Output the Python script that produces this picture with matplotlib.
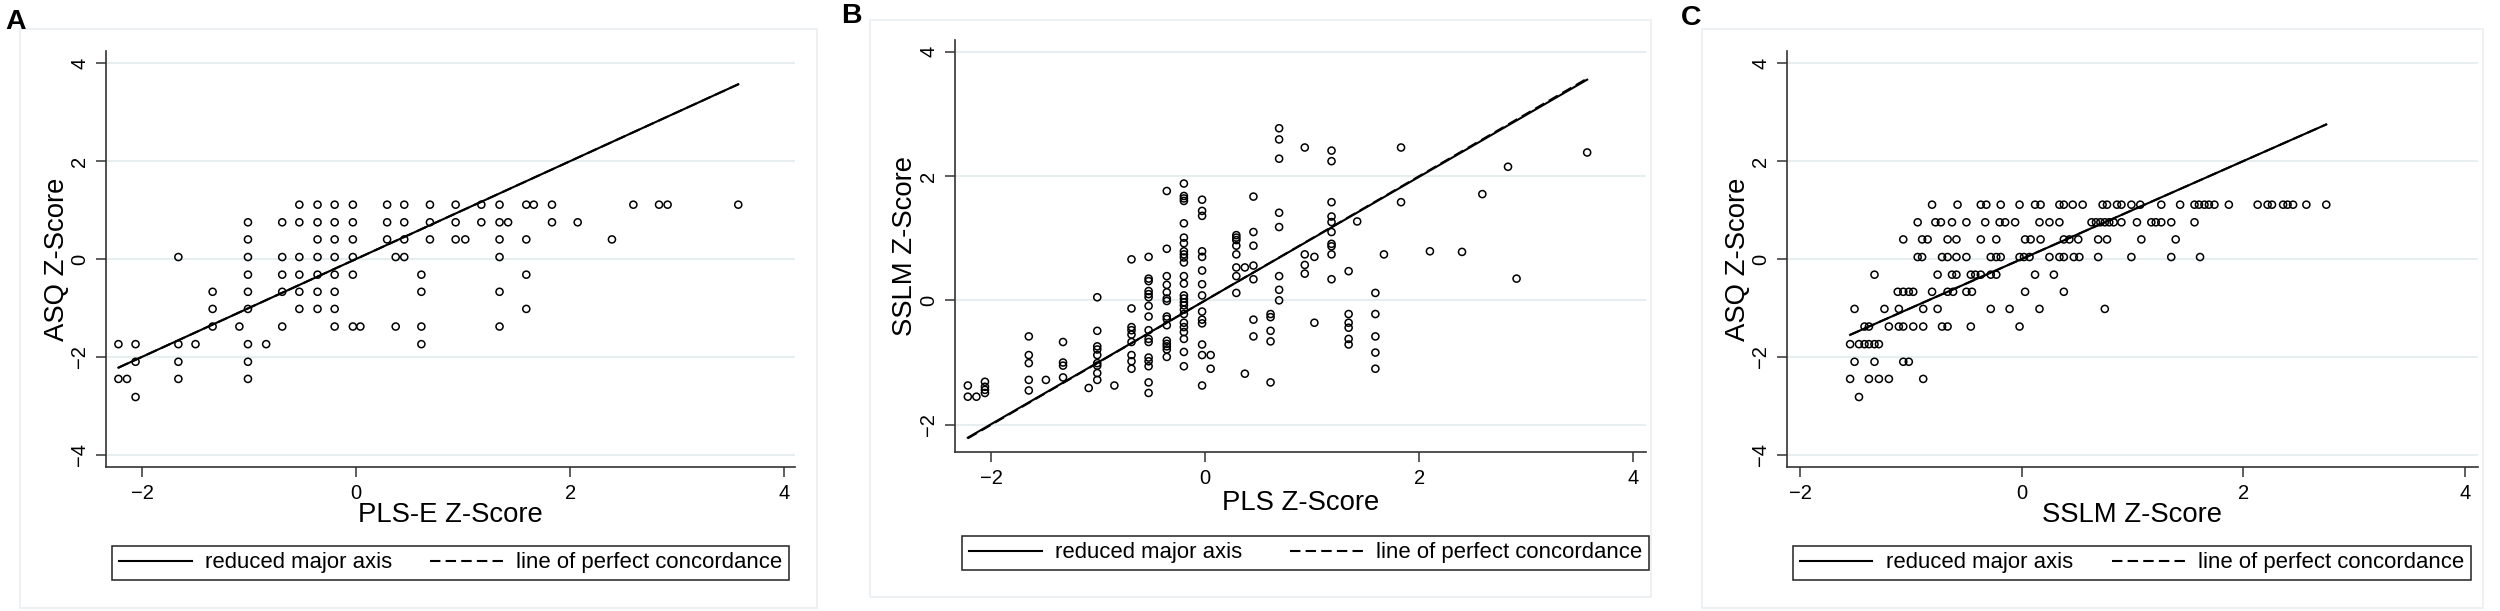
import numpy as np
import matplotlib.pyplot as plt
from matplotlib.patches import Rectangle
from matplotlib.lines import Line2D

plt.rcParams['font.family'] = ['Liberation Sans', 'DejaVu Sans']

# ASQ z-score takes a handful of discrete values (shared by panels A and C)
asq_levels = [1.11, 0.75, 0.40, 0.04, -0.32, -0.67, -1.02, -1.38, -1.74, -2.10, -2.45, -2.82]

# panel A: PLS-E z-score for each ASQ level
pls_e_by_level = [
    [-0.53, -0.36, -0.20, -0.03, 0.29, 0.45, 0.69, 0.93, 1.17, 1.34, 1.59, 1.66, 1.83, 2.59, 2.83, 2.91, 3.57],
    [-1.01, -0.69, -0.53, -0.36, -0.20, -0.03, 0.29, 0.45, 0.69, 0.93, 1.17, 1.34, 1.42, 1.83, 2.07],
    [-1.01, -0.36, -0.20, -0.03, 0.29, 0.45, 0.69, 0.93, 1.02, 1.34, 1.59, 2.39],
    [-1.66, -1.01, -0.69, -0.53, -0.36, -0.20, -0.03, 0.37, 0.45, 1.34],
    [-1.01, -0.69, -0.53, -0.36, -0.20, -0.03, 0.61, 1.59],
    [-1.34, -1.01, -0.69, -0.53, -0.36, -0.20, 0.61, 1.34],
    [-1.34, -1.01, -0.53, -0.36, -0.20, 1.59],
    [-1.34, -1.09, -0.69, -0.20, -0.03, 0.04, 0.37, 0.61, 1.34],
    [-2.22, -2.06, -1.66, -1.50, -1.01, -0.84, 0.61],
    [-2.06, -1.66, -1.01],
    [-2.22, -2.14, -1.66, -1.01],
    [-2.06],
]

# panel C: SSLM z-score for each ASQ level
sslm_by_level = [
    [-0.81, -0.58, -0.37, -0.32, -0.19, -0.02, 0.12, 0.17, 0.34, 0.38, 0.46, 0.55, 0.73, 0.77, 0.86, 0.90,
     0.99, 1.07, 1.26, 1.43, 1.56, 1.60, 1.65, 1.69, 1.74, 1.87, 2.13, 2.22, 2.26, 2.36, 2.40, 2.45, 2.57, 2.75],
    [-0.94, -0.78, -0.73, -0.63, -0.50, -0.33, -0.20, -0.15, -0.06, 0.16, 0.25, 0.34, 0.63, 0.67, 0.71, 0.75,
     0.79, 0.83, 0.90, 1.04, 1.17, 1.21, 1.26, 1.35, 1.56],
    [-1.07, -0.90, -0.85, -0.67, -0.59, -0.37, -0.23, 0.03, 0.08, 0.17, 0.38, 0.43, 0.51, 0.69, 0.77, 1.08, 1.39],
    [-0.94, -0.90, -0.72, -0.67, -0.59, -0.50, -0.28, -0.23, -0.19, -0.02, 0.02, 0.07, 0.25, 0.34, 0.38, 0.47,
     0.52, 0.69, 0.99, 1.35, 1.61],
    [-1.33, -0.76, -0.63, -0.59, -0.46, -0.42, -0.37, -0.28, -0.23, 0.12, 0.29],
    [-1.12, -1.07, -1.02, -0.98, -0.81, -0.67, -0.62, -0.50, -0.45, 0.03, 0.38],
    [-1.51, -1.24, -1.11, -0.89, -0.76, -0.28, -0.11, 0.16, 0.75],
    [-1.42, -1.38, -1.20, -1.11, -1.07, -0.98, -0.89, -0.72, -0.67, -0.46, -0.02],
    [-1.55, -1.47, -1.42, -1.38, -1.33, -1.29],
    [-1.51, -1.33, -1.07, -1.02],
    [-1.55, -1.38, -1.29, -1.20, -0.89],
    [-1.47],
]

# panel B: PLS z-score columns and the SSLM z-scores found in each
pls_cols = [-2.22, -2.14, -2.06, -1.65, -1.49, -1.33, -1.09, -1.01, -0.85, -0.69, -0.53, -0.36, -0.20, -0.03,
            0.05, 0.29, 0.37, 0.45, 0.61, 0.69, 0.93, 1.02, 1.18, 1.34, 1.42, 1.59, 1.67, 1.83, 2.10, 2.40,
            2.59, 2.83, 2.91, 3.57]
sslm_by_col = [
    [-1.37, -1.55],
    [-1.55],
    [-1.31, -1.39, -1.44, -1.49],
    [-0.58, -0.88, -1.01, -1.28, -1.45],
    [-1.28],
    [-0.67, -1.00, -1.05, -1.24],
    [-1.41],
    [0.05, -0.49, -0.74, -0.79, -0.88, -1.01, -1.05, -1.17, -1.28],
    [-1.37],
    [0.66, -0.13, -0.43, -0.48, -0.55, -0.67, -0.88, -0.98, -1.10],
    [0.70, 0.35, 0.31, 0.15, 0.10, 0.05, -0.09, -0.26, -0.48, -0.62, -0.67, -0.92, -0.98, -1.06, -1.32, -1.49],
    [1.76, 0.83, 0.39, 0.25, 0.13, 0.03, -0.01, -0.26, -0.30, -0.40, -0.65, -0.70, -0.74, -0.79, -0.91],
    [1.88, 1.68, 1.64, 1.60, 1.24, 1.01, 0.92, 0.79, 0.74, 0.69, 0.61, 0.39, 0.27, 0.08, 0.03, -0.03, -0.08,
     -0.15, -0.22, -0.36, -0.43, -0.51, -0.62, -0.83, -1.06],
    [1.62, 1.44, 1.36, 0.79, 0.70, 0.48, 0.26, 0.08, -0.18, -0.31, -0.37, -0.71, -0.88, -1.37],
    [-0.88, -1.10],
    [1.05, 1.01, 0.97, 0.88, 0.74, 0.53, 0.39, 0.12],
    [0.53, -1.18],
    [1.67, 1.10, 0.88, 0.56, 0.34, -0.31, -0.58],
    [-0.22, -0.27, -0.49, -0.66, -1.32],
    [2.77, 2.59, 2.28, 1.41, 1.18, 0.39, 0.17, 0.00],
    [2.46, 0.74, 0.57, 0.43],
    [0.70, -0.36],
    [2.41, 2.24, 1.58, 1.35, 1.26, 1.10, 0.91, 0.87, 0.74, 0.34],
    [0.47, -0.22, -0.36, -0.44, -0.62, -0.71],
    [1.27],
    [0.12, -0.22, -0.58, -0.84, -1.10],
    [0.74],
    [2.46, 1.58],
    [0.79],
    [0.78],
    [1.71],
    [2.15],
    [0.35],
    [2.38],
]

# reduced major axis fits (slope, intercept); z-scores give ~y = x
rma_a = (1.0, 0.0)
rma_b = (0.995, 0.0)
rma_c = (1.0, 0.0)

x_ticks = [-2, 0, 2, 4]
legend_labels = ['reduced major axis', 'line of perfect concordance']

W, H = 2500, 611
fig = plt.figure(figsize=(W / 100, H / 100), dpi=100)


def fx(px):
    return px / W


def fy(py):
    return 1 - py / H


def flatten_levels(x_lists, levels):
    xs, ys = [], []
    for lev, row in zip(levels, x_lists):
        xs += row
        ys += [lev] * len(row)
    return np.array(xs), np.array(ys)


def flatten_cols(cols, y_lists):
    xs, ys = [], []
    for c, col in zip(cols, y_lists):
        xs += [c] * len(col)
        ys += col
    return np.array(xs), np.array(ys)


def panel(box, x, y, rma, xlim, ylim, yticks, xlabel, ylabel, xl_pos, yl_pos,
          letter, letter_px, frame_px, legend_px):
    l, t, r, b = box
    ax = fig.add_axes([fx(l), fy(b), fx(r - l), (b - t) / H])
    ax.scatter(x, y, s=26, facecolors='none', edgecolors='black', linewidths=1.1, zorder=3)
    xs = np.array([x.min(), x.max()])
    ax.plot(xs, rma[0] * xs + rma[1], color='black', lw=1.5, zorder=4)
    ax.plot(xs, xs, color='black', lw=1.5, dashes=(5, 2.5), zorder=5)
    ax.set_xlim(*xlim)
    ax.set_ylim(*ylim)
    ax.set_xticks(x_ticks)
    ax.set_yticks(yticks)
    ax.grid(axis='y', color='#e6eef0', lw=1.5)
    ax.set_axisbelow(True)
    for s in ['top', 'right']:
        ax.spines[s].set_visible(False)
    for s in ['left', 'bottom']:
        ax.spines[s].set_color('#333333')
        ax.spines[s].set_linewidth(1.2)
    ax.tick_params(length=7, width=1.1, color='#333333', labelsize=14.5, pad=5)
    ax.tick_params(axis='y', labelrotation=90)
    for lab in ax.get_yticklabels():
        lab.set_va('center')
    ax.set_xlabel(xlabel, fontsize=19.8, va='center')
    ax.xaxis.set_label_coords(*xl_pos)
    ax.set_ylabel(ylabel, fontsize=19.8, va='center')
    ax.yaxis.set_label_coords(*yl_pos)

    fig.text(fx(letter_px[0]), fy(letter_px[1]), letter, fontsize=20.5, fontweight='bold',
             va='top', ha='left')
    fl, ft, fr, fb = frame_px
    fig.patches.append(Rectangle((fx(fl), fy(fb)), fx(fr - fl), (fb - ft) / H,
                                 transform=fig.transFigure, fill=False,
                                 edgecolor='#eaeff1', lw=1.2))
    ll, lt, lr, lb = legend_px
    handles = [Line2D([], [], color='black', lw=1.5),
               Line2D([], [], color='black', lw=1.5, dashes=(5, 2.5))]
    leg = ax.legend(handles, legend_labels, loc='lower left', ncol=2, mode='expand',
                    bbox_to_anchor=(fx(ll), fy(lb), fx(lr - ll), (lb - lt) / H),
                    bbox_transform=fig.transFigure, borderaxespad=0, fontsize=15.9,
                    handlelength=3.3, handletextpad=0.6, columnspacing=1.4,
                    borderpad=0.3, fancybox=False, framealpha=1, edgecolor='#222222')
    leg.get_frame().set_linewidth(1.1)
    return ax


ax_x, ax_y = flatten_levels(pls_e_by_level, asq_levels)
panel((106, 51, 795, 467), ax_x, ax_y, rma_a, (-2.336, 4.10), (-4.25, 4.25), [-4, -2, 0, 2, 4],
      'PLS-E Z-Score', 'ASQ Z-Score', (0.50, -0.115), (-0.071, 0.50),
      'A', (5, 9), (20, 29, 817, 608), (112, 542, 789, 580))

bx, by = flatten_cols(pls_cols, sslm_by_col)
panel((955, 40, 1646, 452), bx, by, rma_b, (-2.34, 4.12), (-2.44, 4.19), [-2, 0, 2, 4],
      'PLS Z-Score', 'SSLM Z-Score', (0.50, -0.124), (-0.072, 0.50),
      'B', (841, 3), (870, 20, 1651, 597), (962, 530, 1649, 570))

cx, cy = flatten_levels(sslm_by_level, asq_levels)
panel((1787, 51, 2478, 467), cx, cy, rma_c, (-2.12, 4.12), (-4.25, 4.25), [-4, -2, 0, 2, 4],
      'SSLM Z-Score', 'ASQ Z-Score', (0.50, -0.115), (-0.071, 0.50),
      'C', (1681, 5), (1702, 29, 2483, 608), (1793, 542, 2471, 580))

fig.savefig('out.png', dpi=100, facecolor='white')
